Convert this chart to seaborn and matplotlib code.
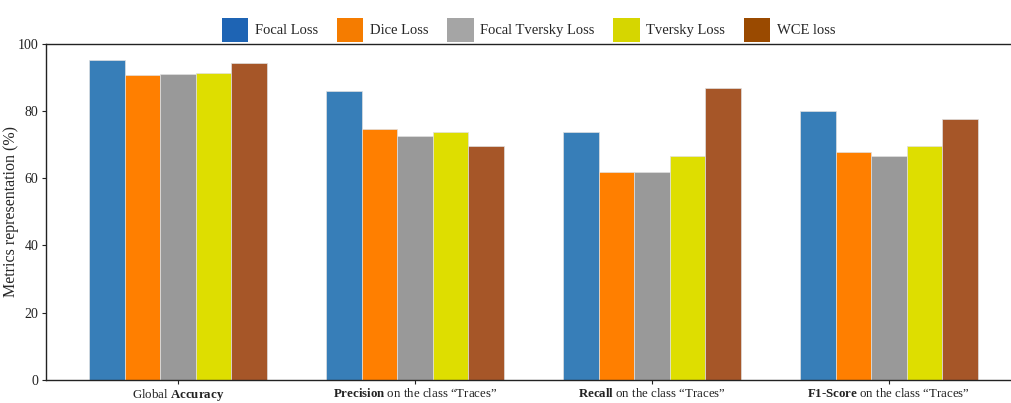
import pandas as pd
import seaborn as sns
import matplotlib.pyplot as plt
from matplotlib.patches import Patch

## Datos
categorias = ['Global $\\mathbf{Accuracy}$',
              '$\\mathbf{Precision}$ on the class \u201cTraces\u201d',
              '$\\mathbf{Recall}$ on the class \u201cTraces\u201d',
              '$\\mathbf{F1}$-$\\mathbf{Score}$ on the class \u201cTraces\u201d']
perdidas = ['Focal Loss', 'Dice Loss', 'Focal Tversky Loss', 'Tversky Loss', 'WCE loss']
focal_loss = [95.0, 85.8, 73.8, 79.8]
dice_loss = [90.5, 74.7, 61.7, 67.9]
focal_tversky = [90.8, 72.6, 61.7, 66.7]
tversky_loss = [91.2, 73.8, 66.7, 69.6]
wce_loss = [94.3, 69.6, 86.9, 77.7]
colores_barras = ['#377eb8', '#ff7f00', '#999999', '#dede00', '#a65628']
colores_leyenda = ['#1e64b4', '#f57c00', '#a5a5a5', '#d6d600', '#9a4a00']

valores = [focal_loss, dice_loss, focal_tversky, tversky_loss, wce_loss]
filas = []
for perdida, serie in zip(perdidas, valores):
    for cat, v in zip(categorias, serie):
        filas.append({'categoria': cat, 'perdida': perdida, 'valor': v})
df = pd.DataFrame(filas)

sns.set_style('white')
plt.rcParams['font.family'] = ['Liberation Serif', 'DejaVu Serif']
plt.rcParams['mathtext.fontset'] = 'custom'
plt.rcParams['mathtext.rm'] = 'Liberation Serif'
plt.rcParams['mathtext.bf'] = 'Liberation Serif:bold'
plt.rcParams['mathtext.it'] = 'Liberation Serif:italic'

fig = plt.figure(figsize=(10.12, 4.03), dpi=100)
ax = fig.add_axes([0.045, 0.057, 0.955, 0.835])

sns.barplot(data=df, x='categoria', y='valor', hue='perdida', palette=colores_barras,
            saturation=1, width=0.75, gap=0, edgecolor='#e0e0e0', linewidth=0.5,
            legend=False, ax=ax)

ax.set_ylim(0, 100)
ax.set_xlim(-0.56, 3.52)
ax.set_yticks([0, 20, 40, 60, 80, 100])
ax.set_xlabel('')
ax.set_ylabel('Metrics representation (%)', fontsize=11.5)
ax.yaxis.set_label_coords(-0.027, 0.5)
ax.tick_params(axis='both', which='both', direction='out', length=3, width=0.8,
               colors='#222222', labelsize=10, left=True, bottom=True, pad=2)
for lab in ax.get_xticklabels():
    lab.set_fontsize(9.3)

for s in ['left', 'bottom', 'top']:
    ax.spines[s].set_visible(True)
    ax.spines[s].set_color('#222222')
    ax.spines[s].set_linewidth(1.0)
ax.spines['right'].set_visible(False)

## Leyenda arriba con cuadrados
handles = [Patch(facecolor=c, edgecolor='none') for c in colores_leyenda]
ax.legend(handles, perdidas, loc='lower center', bbox_to_anchor=(0.5, 1.0), ncol=5,
          frameon=False, fontsize=10.5, handlelength=1.8, handleheight=2.2,
          handletextpad=0.45, columnspacing=1.3, borderaxespad=0.0, borderpad=0.1)

plt.savefig('out.png', dpi=100)
